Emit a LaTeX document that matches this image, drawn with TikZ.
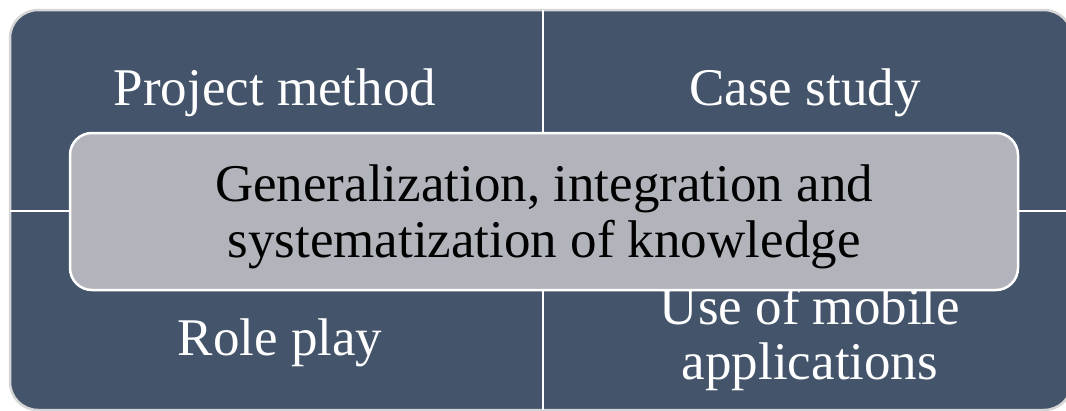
\documentclass[tikz,border=0pt]{standalone}
\usepackage{fontspec}
\setmainfont{Liberation Serif}
\usepackage{xcolor}
\usepackage{tikz}

\definecolor{slateblue}{HTML}{44546A}
\definecolor{centregray}{HTML}{B1B4BB}
\definecolor{rimgray}{HTML}{D6D6D6}

\tikzset{
  quadtext/.style={text=white,font=\fontsize{53}{55}\selectfont,align=center,inner sep=0pt},
  centrebox/.style={draw=white,line width=2.5pt,fill=centregray,rounded corners=22pt,
                    minimum width=948pt,minimum height=157pt},
  centretext/.style={font=\fontsize{53}{56}\selectfont,align=center,text=black,inner sep=0pt}
}

\begin{document}
\begin{tikzpicture}[x=1pt,y=-1pt]
\useasboundingbox (0,0) rectangle (1066,410);
\clip (0,0) rectangle (1066,410);
\fill[white] (0,0) rectangle (1066,410);
\draw[rimgray,line width=2.5pt,fill=slateblue,rounded corners=28pt] (10,10) rectangle (1072,410);
\draw[white,line width=2.5pt] (543,10) -- (543,410);
\draw[white,line width=2.5pt] (10,211) -- (1072,211);

\node[quadtext,anchor=base] (project) at (275,105) {Project method};
\node[quadtext,anchor=base] (casestudy) at (805,105) {Case study};
\node[quadtext,anchor=base] (roleplay) at (280,355) {Role play};
\node[quadtext] (mobile) at (810,339) {Use of mobile\\applications};

\node[centrebox] (knowledge) at (544,211.5) {};
\node[centretext] (knowledgetext) at ([yshift=-5pt]knowledge.center) {Generalization, integration and\\systematization of knowledge};
\end{tikzpicture}
\end{document}
